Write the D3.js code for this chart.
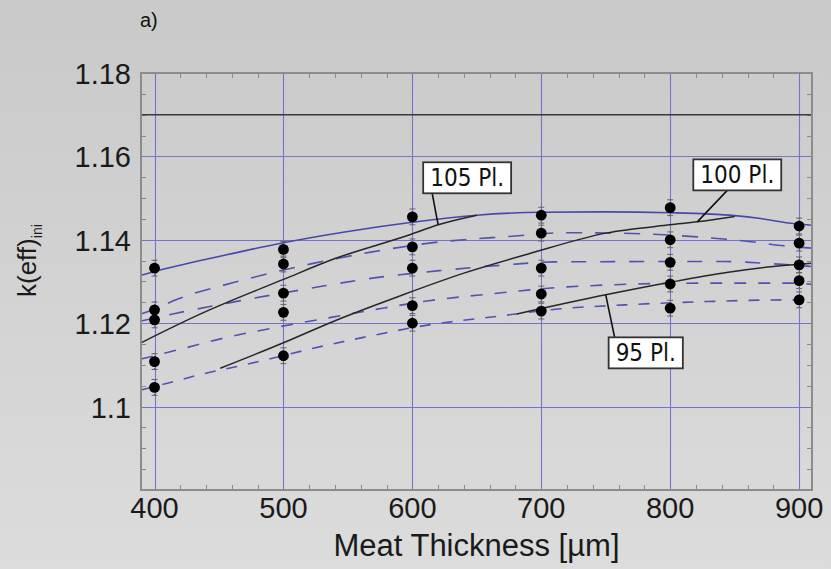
<!DOCTYPE html>
<html lang="en">
<head>
    <meta charset="UTF-8">
    <title>k(eff) vs Meat Thickness</title>
    <script src="https://d3js.org/d3.v7.min.js"></script>
    <style>
        body { margin: 0; }
        svg { display: block; }
        .tick-label { font-family: "Liberation Sans", Arial, sans-serif; font-size: 29px; fill: #1a1a1a; }
        .axis-title { font-family: "Liberation Sans", Arial, sans-serif; font-size: 31px; fill: #1a1a1a; }
        .box-label { font-family: "DejaVu Sans Condensed", "Liberation Sans Narrow", sans-serif; font-size: 24px; fill: #111; }
    </style>
</head>
<body>
    <svg id="chart"></svg>

    <script>
        // x positions of the measurements (µm)
        var thickness = [400, 500, 600, 700, 800, 900];
        // measured k(eff) values, one array per thickness
        var measured = [
            [1.1332, 1.1232, 1.1208, 1.1108, 1.1046],
            [1.1377, 1.1342, 1.1272, 1.1226, 1.1122],
            [1.1455, 1.1383, 1.1332, 1.1242, 1.1200],
            [1.1459, 1.1416, 1.1332, 1.1270, 1.1229],
            [1.1477, 1.1400, 1.1346, 1.1294, 1.1236],
            [1.1433, 1.1392, 1.1340, 1.1302, 1.1256]
        ];
        var errorBar = 0.0019;

        // curves: [thickness, k]
        var blueSolid = [[389.5, 1.1315], [400, 1.1324], [450, 1.1360], [500, 1.1393], [550, 1.1420],
            [600, 1.1442], [650, 1.1459], [700, 1.1466], [750, 1.1467], [800, 1.1465],
            [850, 1.1458], [870, 1.1451], [890, 1.1441], [910, 1.1435]];
        var dashA = [[389.5, 1.1222], [400, 1.1234], [418, 1.1258], [462, 1.1298], [524, 1.1344],
            [569, 1.1371], [613, 1.1392], [675, 1.1408], [720, 1.1417], [760, 1.1416],
            [821, 1.1407], [861, 1.1396], [893, 1.1384], [910, 1.1380]];
        var dashB = [[389.5, 1.1205], [414, 1.1222], [448, 1.1243], [472, 1.1257], [523, 1.1285],
            [569, 1.1308], [621, 1.1326], [673, 1.1340], [710, 1.1347], [840, 1.1348],
            [887, 1.1341], [910, 1.1336]];
        var dashC = [[389.5, 1.1114], [418, 1.1136], [452, 1.1163], [496, 1.1191], [537, 1.1214],
            [577, 1.1236], [613, 1.1254], [660, 1.1270], [720, 1.1287], [821, 1.1296],
            [898, 1.1296], [910, 1.1293]];
        var dashD = [[389.5, 1.1040], [410, 1.1056], [437, 1.1078], [468, 1.1099], [493, 1.1117],
            [522, 1.1139], [562, 1.1166], [613, 1.1196], [665, 1.1216], [713, 1.1234],
            [765, 1.1244], [829, 1.1252], [890, 1.1256], [910, 1.1255]];
        var fit105 = [[389.5, 1.1153], [437, 1.1224], [500, 1.1305], [540, 1.1355], [598, 1.1412],
            [620, 1.1436], [650, 1.1459]];
        var fit100 = [[451, 1.1092], [500, 1.1153], [540, 1.1206], [590, 1.1265], [640, 1.1320],
            [690, 1.1366], [750, 1.1416], [800, 1.1436], [821, 1.1443], [850, 1.1456]];
        var fit95 = [[681, 1.1222], [750, 1.1268], [800, 1.1298], [845, 1.1322], [880, 1.1336],
            [910, 1.1344]];
        var refLevel = 1.17;

        var xTicks = [400, 500, 600, 700, 800, 900];
        var yTicks = [1.1, 1.12, 1.14, 1.16, 1.18];
        var yTickLabels = ["1.1", "1.12", "1.14", "1.16", "1.18"];

        // labels: text, point on the curve, box centre offset from that point (px)
        var labels = [
            { text: "105 Pl.", at: [620, 1.1436], dx: 29, dy: -47, lx: 9 },
            { text: "100 Pl.", at: [821, 1.1443], dx: 40, dy: -47, lx: 34 },
            { text: "95 Pl.", at: [750, 1.1268], dx: 40, dy: 58, lx: 6 }
        ];

        var width = 831, height = 569;
        var plotLeft = 141, plotRight = 812, plotTop = 73, plotBottom = 490;

        var svg = d3.select("#chart").attr("width", width).attr("height", height);

        // background gradient
        var grad = svg.append("defs").append("linearGradient")
            .attr("id", "bg").attr("x1", 0).attr("y1", 0).attr("x2", 0).attr("y2", 1);
        grad.append("stop").attr("offset", "0%").attr("stop-color", "#c9c9c9");
        grad.append("stop").attr("offset", "100%").attr("stop-color", "#dcdcdc");
        svg.append("rect").attr("width", width).attr("height", height).attr("fill", "url(#bg)");

        var x = d3.scaleLinear().domain([389.5, 910]).range([plotLeft, plotRight]);
        var y = d3.scaleLinear().domain([1.08, 1.18]).range([plotBottom, plotTop]);

        // snap 1px lines to the pixel grid
        function crisp(v) { return Math.round(v) + 0.5; }

        // grid lines
        var grid = svg.append("g").attr("stroke", "#7573cc").attr("stroke-width", 1.1);
        grid.selectAll(".gx").data(xTicks).enter().append("line")
            .attr("x1", function(d) { return crisp(x(d)); }).attr("x2", function(d) { return crisp(x(d)); })
            .attr("y1", plotTop).attr("y2", plotBottom);
        grid.selectAll(".gy").data(yTicks).enter().append("line")
            .attr("x1", plotLeft).attr("x2", plotRight)
            .attr("y1", function(d) { return crisp(y(d)); }).attr("y2", function(d) { return crisp(y(d)); });

        // minor ticks, pointing inward on all four sides
        var minorX = d3.range(400, 910, 20).filter(function(d) { return d % 100 !== 0; });
        var minorY = d3.range(1, 20).map(function(i) { return 1.08 + i * 0.005; })
            .filter(function(d, i) { return (i + 1) % 4 !== 0; });
        var ticks = svg.append("g").attr("stroke", "#8a8a8a").attr("stroke-width", 1);
        minorX.forEach(function(d) {
            ticks.append("line").attr("x1", crisp(x(d))).attr("x2", crisp(x(d))).attr("y1", plotBottom).attr("y2", plotBottom - 5);
            ticks.append("line").attr("x1", crisp(x(d))).attr("x2", crisp(x(d))).attr("y1", plotTop).attr("y2", plotTop + 5);
        });
        minorY.forEach(function(d) {
            ticks.append("line").attr("x1", plotLeft).attr("x2", plotLeft + 5).attr("y1", crisp(y(d))).attr("y2", crisp(y(d)));
            ticks.append("line").attr("x1", plotRight).attr("x2", plotRight - 5).attr("y1", crisp(y(d))).attr("y2", crisp(y(d)));
        });

        // horizontal reference line
        svg.append("line")
            .attr("x1", plotLeft).attr("x2", plotRight)
            .attr("y1", y(refLevel)).attr("y2", y(refLevel))
            .attr("stroke", "#3a3a3a").attr("stroke-width", 1.5);

        var line = d3.line()
            .x(function(d) { return x(d[0]); })
            .y(function(d) { return y(d[1]); })
            .curve(d3.curveMonotoneX);

        var curves = [
            { data: dashA, color: "#5252b0", dash: "16,13", w: 1.6 },
            { data: dashB, color: "#5252b0", dash: "15,14", w: 1.6 },
            { data: dashC, color: "#5252b0", dash: "12,12", w: 1.6 },
            { data: dashD, color: "#5252b0", dash: "11,11", w: 1.6 },
            { data: blueSolid, color: "#4848a8", dash: null, w: 1.6 },
            { data: fit105, color: "#262626", dash: null, w: 1.5 },
            { data: fit100, color: "#262626", dash: null, w: 1.5 },
            { data: fit95, color: "#262626", dash: null, w: 1.5 }
        ];
        svg.append("g").selectAll("path").data(curves).enter().append("path")
            .attr("d", function(d) { return line(d.data); })
            .attr("fill", "none")
            .attr("stroke", function(d) { return d.color; })
            .attr("stroke-width", function(d) { return d.w; })
            .attr("stroke-dasharray", function(d) { return d.dash; });

        // measured points with error bars
        var pts = [];
        thickness.forEach(function(t, i) {
            measured[i].forEach(function(k) { pts.push([t, k]); });
        });
        var pg = svg.append("g");
        pg.selectAll(".err").data(pts).enter().append("line")
            .attr("x1", function(d) { return x(d[0]); }).attr("x2", function(d) { return x(d[0]); })
            .attr("y1", function(d) { return y(d[1] - errorBar); })
            .attr("y2", function(d) { return y(d[1] + errorBar); })
            .attr("stroke", "#555").attr("stroke-width", 1.2).attr("stroke-dasharray", "1.5,1.5");
        [-errorBar, errorBar].forEach(function(e) {
            pg.selectAll(".cap").data(pts).enter().append("line")
                .attr("x1", function(d) { return x(d[0]) - 3; }).attr("x2", function(d) { return x(d[0]) + 3; })
                .attr("y1", function(d) { return y(d[1] + e); }).attr("y2", function(d) { return y(d[1] + e); })
                .attr("stroke", "#666").attr("stroke-width", 1);
        });
        pg.selectAll("circle").data(pts).enter().append("circle")
            .attr("cx", function(d) { return x(d[0]); })
            .attr("cy", function(d) { return y(d[1]); })
            .attr("r", 5.4).attr("fill", "#000");

        // plot frame
        svg.append("rect")
            .attr("x", plotLeft).attr("y", plotTop).attr("width", plotRight - plotLeft).attr("height", plotBottom - plotTop)
            .attr("fill", "none").attr("stroke", "#8c8c8c").attr("stroke-width", 2);

        // curve labels with leaders
        labels.forEach(function(l) {
            var px = x(l.at[0]), py = y(l.at[1]);
            var cx = px + l.dx, cy = py + l.dy;
            var g = svg.append("g");
            var t = g.append("text").attr("class", "box-label")
                .attr("x", cx).attr("y", cy).attr("text-anchor", "middle")
                .attr("dominant-baseline", "central").text(l.text);
            var bb = t.node().getBBox();
            var bw = bb.width + 14, bh = 31;
            var by = l.dy < 0 ? cy + bh / 2 : cy - bh / 2;
            g.insert("line", "text")
                .attr("x1", px).attr("y1", py)
                .attr("x2", cx - bw / 2 + l.lx).attr("y2", by)
                .attr("stroke", "#111").attr("stroke-width", 1.6);
            g.insert("rect", "text")
                .attr("x", cx - bw / 2).attr("y", cy - bh / 2)
                .attr("width", bw).attr("height", bh)
                .attr("fill", "#fff").attr("stroke", "#333").attr("stroke-width", 1.8);
        });

        // tick labels
        svg.append("g").selectAll("text").data(xTicks).enter().append("text")
            .attr("class", "tick-label")
            .attr("x", function(d) { return x(d); }).attr("y", 518)
            .attr("text-anchor", "middle")
            .text(function(d) { return d; });
        svg.append("g").selectAll("text").data(yTicks).enter().append("text")
            .attr("class", "tick-label")
            .attr("x", 131).attr("y", function(d) { return y(d) + 11; })
            .attr("text-anchor", "end")
            .text(function(d, i) { return yTickLabels[i]; });

        // axis titles
        svg.append("text").attr("class", "axis-title")
            .attr("x", (plotLeft + plotRight) / 2).attr("y", 556)
            .attr("text-anchor", "middle")
            .text("Meat Thickness [µm]");

        var yt = svg.append("text").attr("class", "axis-title")
            .attr("transform", "translate(36,297) rotate(-90)")
            .style("font-size", "26px");
        yt.append("tspan").text("k(eff)");
        yt.append("tspan").attr("dy", 6).style("font-size", "14px").text("ini");

        svg.append("text")
            .attr("x", 140).attr("y", 27)
            .style("font-family", "Liberation Sans, Arial, sans-serif").style("font-size", "20px")
            .attr("fill", "#111")
            .text("a)");
    </script>
</body>
</html>
